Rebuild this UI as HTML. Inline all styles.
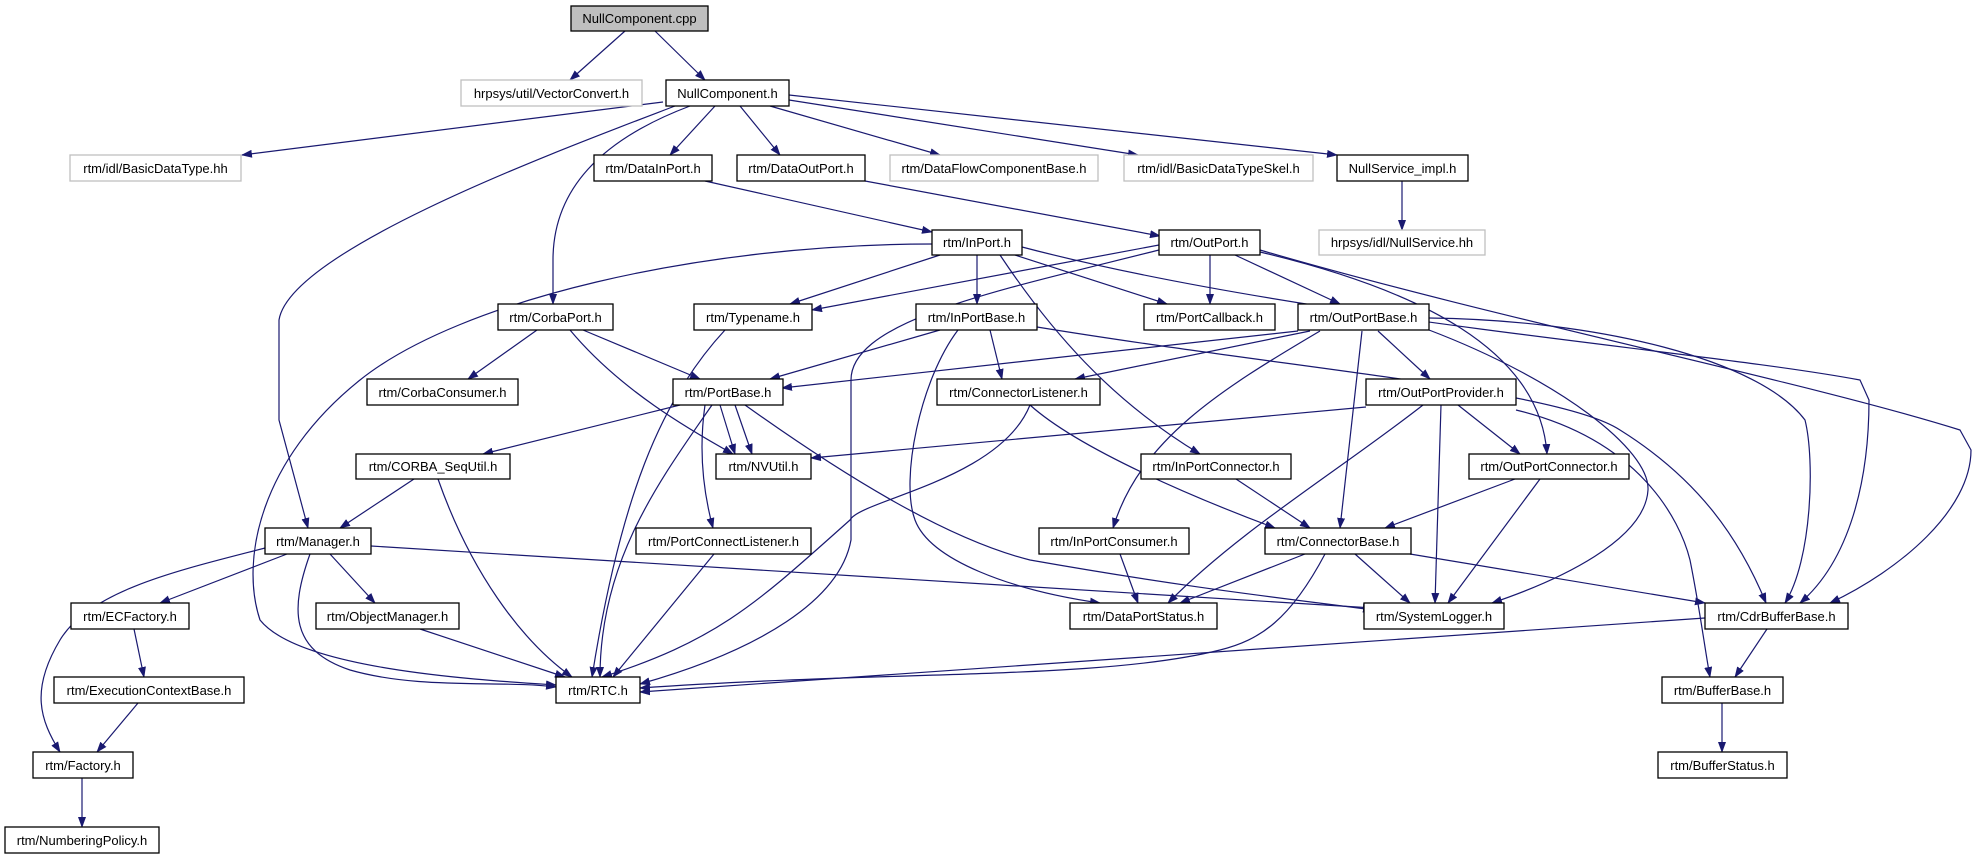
<!DOCTYPE html>
<html><head><meta charset="utf-8"><style>
html,body{margin:0;padding:0;background:#fff;width:1977px;height:859px;overflow:hidden}
svg text{font-family:"Liberation Sans",Arial,sans-serif;font-size:13px;fill:#000}
</style></head><body>
<svg width="1977" height="859" viewBox="0 0 1977 859" xmlns="http://www.w3.org/2000/svg">
<defs><marker id="a" markerWidth="11" markerHeight="8" refX="10" refY="4" orient="auto" markerUnits="userSpaceOnUse"><path d="M0,0 L11,4 L0,8 z" fill="#191970"/></marker></defs>
<g fill="none" stroke="#191970" stroke-width="1.2" marker-end="url(#a)">
<path d="M625,31 L570,80"/>
<path d="M655,31 L705,80"/>
<path d="M663,102 L242,155"/>
<path d="M675,106 C560,150 290,250 279,320 L279,420 L308,528"/>
<path d="M690,106 C600,140 553,190 553,260 L553,304"/>
<path d="M715,106 L670,155"/>
<path d="M740,106 L780,155"/>
<path d="M770,106 L940,155"/>
<path d="M789,100 L1138,155"/>
<path d="M789,95 L1337,155"/>
<path d="M1402,181 L1402,230"/>
<path d="M705,181 L932,232"/>
<path d="M865,181 L1160,236"/>
<path d="M932,244 C700,244 460,300 360,380 C260,460 240,560 260,620 C300,670 480,680 556,685"/>
<path d="M940,255 L790,304"/>
<path d="M977,255 L977,304"/>
<path d="M1015,255 L1167,304"/>
<path d="M1000,255 C1050,330 1110,400 1200,454"/>
<path d="M1022,247 C1300,320 1700,350 1860,380 L1869,400 C1869,480 1850,560 1800,603"/>
<path d="M1159,245 L812,310"/>
<path d="M1159,250 C1000,290 851,320 851,380 L851,540 C840,600 760,650 640,684"/>
<path d="M1210,255 L1210,304"/>
<path d="M1235,255 L1340,304"/>
<path d="M1260,252 C1420,290 1540,350 1547,454"/>
<path d="M1260,250 C1500,320 1800,380 1960,430 L1971,450 C1971,510 1900,570 1830,603"/>
<path d="M940,330 L770,379"/>
<path d="M990,330 L1002,379"/>
<path d="M958,330 C920,380 900,480 915,520 C930,560 1010,590 1100,603"/>
<path d="M1037,327 C1300,370 1560,390 1620,430 C1700,480 1740,540 1766,603"/>
<path d="M1298,331 L782,388"/>
<path d="M1310,331 L1075,379"/>
<path d="M1320,331 C1220,390 1140,440 1113,528"/>
<path d="M1362,331 L1340,528"/>
<path d="M1378,331 L1430,379"/>
<path d="M1429,318 C1600,320 1760,360 1805,420 C1815,460 1812,560 1785,603"/>
<path d="M1429,330 C1560,380 1650,450 1648,490 C1645,540 1560,580 1492,603"/>
<path d="M537,330 L468,379"/>
<path d="M583,330 L700,379"/>
<path d="M570,330 C620,390 690,430 733,454"/>
<path d="M725,330 C660,400 620,500 592,677"/>
<path d="M680,405 L483,454"/>
<path d="M720,405 L735,454"/>
<path d="M735,405 L752,454"/>
<path d="M712,405 C660,480 600,560 600,677"/>
<path d="M705,405 C700,440 700,480 713,528"/>
<path d="M745,405 C850,480 950,540 1030,560 C1200,590 1300,600 1373,610"/>
<path d="M1030,405 C1000,480 860,500 850,520 C760,600 720,640 602,677"/>
<path d="M1030,405 C1080,450 1200,500 1275,528"/>
<path d="M1366,407 L811,458"/>
<path d="M1423,405 C1340,470 1240,530 1168,603"/>
<path d="M1441,405 L1435,603"/>
<path d="M1458,405 L1520,454"/>
<path d="M1516,410 C1640,440 1680,520 1690,560 C1700,610 1705,650 1710,677"/>
<path d="M1236,479 L1310,528"/>
<path d="M1515,479 L1385,528"/>
<path d="M1540,479 L1448,603"/>
<path d="M1120,554 L1138,603"/>
<path d="M1305,554 L1180,603"/>
<path d="M1355,554 L1410,603"/>
<path d="M1410,554 L1705,603"/>
<path d="M1325,554 C1290,620 1260,640 1220,650 C1100,680 900,670 640,688"/>
<path d="M1705,618 L640,692"/>
<path d="M1767,629 L1735,677"/>
<path d="M1722,703 L1722,752"/>
<path d="M414,479 L340,528"/>
<path d="M438,479 C470,570 520,640 572,677"/>
<path d="M265,548 C180,570 90,590 60,640 C30,690 40,720 60,752"/>
<path d="M287,554 L160,603"/>
<path d="M310,554 C290,610 290,650 350,670 C420,690 500,680 556,687"/>
<path d="M330,554 L375,603"/>
<path d="M371,546 L1373,608"/>
<path d="M134,629 L144,677"/>
<path d="M420,629 L565,677"/>
<path d="M138,703 L97,752"/>
<path d="M82,778 L82,827"/>
<path d="M714,554 L613,677"/>
</g>
<g stroke-width="1.3" fill="#fff">
<rect x="571" y="6" width="137" height="25" fill="#bfbfbf" stroke="#000"/>
<rect x="461" y="80" width="181" height="26" stroke="#bfbfbf"/>
<rect x="666" y="80" width="123" height="26" stroke="#000"/>
<rect x="70" y="155" width="171" height="26" stroke="#bfbfbf"/>
<rect x="594" y="155" width="118" height="26" stroke="#000"/>
<rect x="737" y="155" width="128" height="26" stroke="#000"/>
<rect x="890" y="155" width="208" height="26" stroke="#bfbfbf"/>
<rect x="1124" y="155" width="189" height="26" stroke="#bfbfbf"/>
<rect x="1337" y="155" width="131" height="26" stroke="#000"/>
<rect x="1319" y="230" width="166" height="25" stroke="#bfbfbf"/>
<rect x="932" y="230" width="90" height="25" stroke="#000"/>
<rect x="1159" y="230" width="101" height="25" stroke="#000"/>
<rect x="498" y="304" width="115" height="26" stroke="#000"/>
<rect x="694" y="304" width="118" height="26" stroke="#000"/>
<rect x="916" y="304" width="121" height="26" stroke="#000"/>
<rect x="1144" y="304" width="131" height="26" stroke="#000"/>
<rect x="1298" y="304" width="131" height="26" stroke="#000"/>
<rect x="367" y="379" width="151" height="26" stroke="#000"/>
<rect x="673" y="379" width="110" height="26" stroke="#000"/>
<rect x="937" y="379" width="163" height="26" stroke="#000"/>
<rect x="1366" y="379" width="150" height="26" stroke="#000"/>
<rect x="356" y="454" width="154" height="25" stroke="#000"/>
<rect x="716" y="454" width="95" height="25" stroke="#000"/>
<rect x="1141" y="454" width="150" height="25" stroke="#000"/>
<rect x="1469" y="454" width="160" height="25" stroke="#000"/>
<rect x="265" y="528" width="106" height="26" stroke="#000"/>
<rect x="636" y="528" width="175" height="26" stroke="#000"/>
<rect x="1039" y="528" width="150" height="26" stroke="#000"/>
<rect x="1265" y="528" width="146" height="26" stroke="#000"/>
<rect x="71" y="603" width="118" height="26" stroke="#000"/>
<rect x="316" y="603" width="143" height="26" stroke="#000"/>
<rect x="1070" y="603" width="147" height="26" stroke="#000"/>
<rect x="1364" y="603" width="140" height="26" stroke="#000"/>
<rect x="1705" y="603" width="143" height="26" stroke="#000"/>
<rect x="54" y="677" width="190" height="26" stroke="#000"/>
<rect x="556" y="677" width="84" height="26" stroke="#000"/>
<rect x="1662" y="677" width="121" height="26" stroke="#000"/>
<rect x="33" y="752" width="100" height="26" stroke="#000"/>
<rect x="1658" y="752" width="129" height="26" stroke="#000"/>
<rect x="5" y="827" width="154" height="26" stroke="#000"/>
</g>
<g text-anchor="middle">
<text x="639.5" y="23">NullComponent.cpp</text>
<text x="551.5" y="98">hrpsys/util/VectorConvert.h</text>
<text x="727.5" y="98">NullComponent.h</text>
<text x="155.5" y="173">rtm/idl/BasicDataType.hh</text>
<text x="653" y="173">rtm/DataInPort.h</text>
<text x="801" y="173">rtm/DataOutPort.h</text>
<text x="994" y="173">rtm/DataFlowComponentBase.h</text>
<text x="1218.5" y="173">rtm/idl/BasicDataTypeSkel.h</text>
<text x="1402.5" y="173">NullService_impl.h</text>
<text x="1402" y="247">hrpsys/idl/NullService.hh</text>
<text x="977" y="247">rtm/InPort.h</text>
<text x="1209.5" y="247">rtm/OutPort.h</text>
<text x="555.5" y="322">rtm/CorbaPort.h</text>
<text x="753" y="322">rtm/Typename.h</text>
<text x="976.5" y="322">rtm/InPortBase.h</text>
<text x="1209.5" y="322">rtm/PortCallback.h</text>
<text x="1363.5" y="322">rtm/OutPortBase.h</text>
<text x="442.5" y="397">rtm/CorbaConsumer.h</text>
<text x="728" y="397">rtm/PortBase.h</text>
<text x="1018.5" y="397">rtm/ConnectorListener.h</text>
<text x="1441" y="397">rtm/OutPortProvider.h</text>
<text x="433" y="471">rtm/CORBA_SeqUtil.h</text>
<text x="763.5" y="471">rtm/NVUtil.h</text>
<text x="1216" y="471">rtm/InPortConnector.h</text>
<text x="1549" y="471">rtm/OutPortConnector.h</text>
<text x="318" y="546">rtm/Manager.h</text>
<text x="723.5" y="546">rtm/PortConnectListener.h</text>
<text x="1114" y="546">rtm/InPortConsumer.h</text>
<text x="1338" y="546">rtm/ConnectorBase.h</text>
<text x="130" y="621">rtm/ECFactory.h</text>
<text x="387.5" y="621">rtm/ObjectManager.h</text>
<text x="1143.5" y="621">rtm/DataPortStatus.h</text>
<text x="1434" y="621">rtm/SystemLogger.h</text>
<text x="1776.5" y="621">rtm/CdrBufferBase.h</text>
<text x="149" y="695">rtm/ExecutionContextBase.h</text>
<text x="598" y="695">rtm/RTC.h</text>
<text x="1722.5" y="695">rtm/BufferBase.h</text>
<text x="83" y="770">rtm/Factory.h</text>
<text x="1722.5" y="770">rtm/BufferStatus.h</text>
<text x="82" y="845">rtm/NumberingPolicy.h</text>
</g>
</svg>
</body></html>
